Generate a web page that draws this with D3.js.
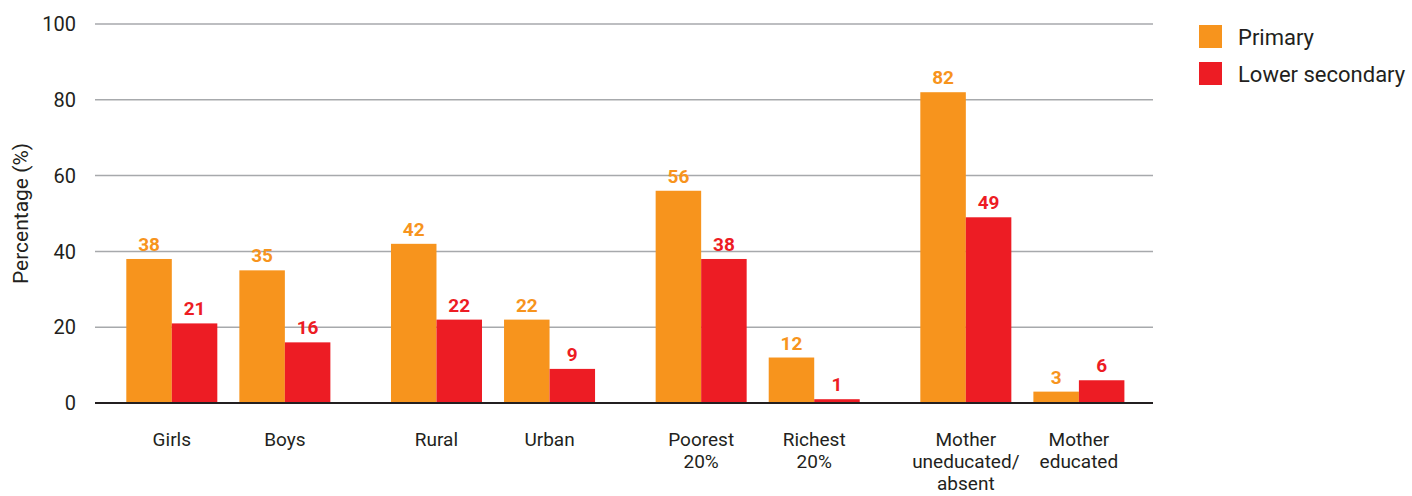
<!DOCTYPE html>
<html>
<head>
<meta charset="utf-8">
<script src="https://cdn.jsdelivr.net/npm/d3@7"></script>
<style>
 body{margin:0;background:#fff;}
 text{font-family:Roboto,"Liberation Sans",Arial,sans-serif;fill:#231f20;}
</style>
</head>
<body>
<div id="chart"></div>
<script>
// data
var groups = ["g1", "g2", "g3", "g4"];
var categories = [
  ["Girls", "Boys"],
  ["Rural", "Urban"],
  ["Poorest|20%", "Richest|20%"],
  ["Mother|uneducated/|absent", "Mother|educated"]
];
var seriesNames = ["Primary", "Lower secondary"];
var primary = [38, 35, 42, 22, 56, 12, 82, 3];
var lowerSecondary = [21, 16, 22, 9, 38, 1, 49, 6];
var yTicks = [0, 20, 40, 60, 80, 100];
var colors = ["#f7941d", "#ed1c24"];

var width = 1412, height = 496;
var mLeft = 95, mRight = 1153, mTop = 24, mBottom = 403;

var svg = d3.select('#chart').append("svg")
  .attr("width", width)
  .attr("height", height)
  .style('display','block');

var y = d3.scaleLinear().domain([0, 100]).range([mBottom, mTop]);

var xGroup = d3.scaleBand().domain(groups).range([96, 1154.7]).padding(0);
var xCat = d3.scaleBand().domain([0, 1]).range([0, xGroup.bandwidth()])
  .paddingInner(0.195).paddingOuter(0.268);
var xSer = d3.scaleBand().domain([0, 1]).range([0, xCat.bandwidth()]);

// gridlines
svg.append("g").selectAll("line")
  .data(yTicks.filter(function(d){ return d > 0; }))
  .enter().append("line")
    .attr("x1", mLeft).attr("x2", mRight)
    .attr("y1", function(d){ return y(d); })
    .attr("y2", function(d){ return y(d); })
    .attr("stroke", "#a7a9ac")
    .attr("stroke-width", 1.5);

// y tick labels
svg.append("g").selectAll("text")
  .data(yTicks)
  .enter().append("text")
    .attr("x", 76)
    .attr("y", function(d){ return y(d); })
    .attr("dy", "0.36em")
    .attr("text-anchor", "end")
    .style("font-size", "20px")
    .text(function(d){ return d; });

svg.append("text")
  .attr("transform", "translate(28," + ((mTop + mBottom) / 2) + ") rotate(-90)")
  .attr("text-anchor", "middle")
  .style("font-size", "21px")
  .text("Percentage (%)");

// flatten rows
var rows = [];
groups.forEach(function(g, gi){
  categories[gi].forEach(function(c, ci){
    var idx = gi * 2 + ci;
    rows.push({g: g, ci: ci, label: c, vals: [primary[idx], lowerSecondary[idx]]});
  });
});

var bars = svg.append("g");
rows.forEach(function(r){
  var x0 = xGroup(r.g) + xCat(r.ci);
  r.vals.forEach(function(v, si){
    var bx = x0 + xSer(si);
    bars.append("rect")
      .attr("x", bx)
      .attr("y", y(v))
      .attr("width", xSer.bandwidth())
      .attr("height", y(0) - y(v))
      .attr("fill", colors[si]);
    bars.append("text")
      .attr("x", bx + xSer.bandwidth() / 2)
      .attr("y", y(v) - 8)
      .attr("text-anchor", "middle")
      .style("font-size", "19px")
      .style("font-weight", "bold")
      .style("fill", colors[si])
      .text(v);
  });
  var lbl = svg.append("text")
    .attr("text-anchor", "middle")
    .style("font-size", "19px");
  r.label.split("|").forEach(function(part, li){
    lbl.append("tspan")
      .attr("x", x0 + xCat.bandwidth() / 2)
      .attr("y", 446 + li * 22)
      .text(part);
  });
});

// baseline
svg.append("line")
  .attr("x1", mLeft).attr("x2", mRight)
  .attr("y1", y(0)).attr("y2", y(0))
  .attr("stroke", "#231f20")
  .attr("stroke-width", 2);

// legend
var legend = svg.append("g").attr("transform", "translate(1199,25)");
seriesNames.forEach(function(s, i){
  legend.append("rect")
    .attr("x", 0).attr("y", i * 37)
    .attr("width", 23).attr("height", 23)
    .attr("fill", colors[i]);
  legend.append("text")
    .attr("x", 39).attr("y", i * 37 + 12)
    .attr("dy", "0.36em")
    .style("font-size", "22px")
    .text(s);
});
</script>
</body>
</html>
